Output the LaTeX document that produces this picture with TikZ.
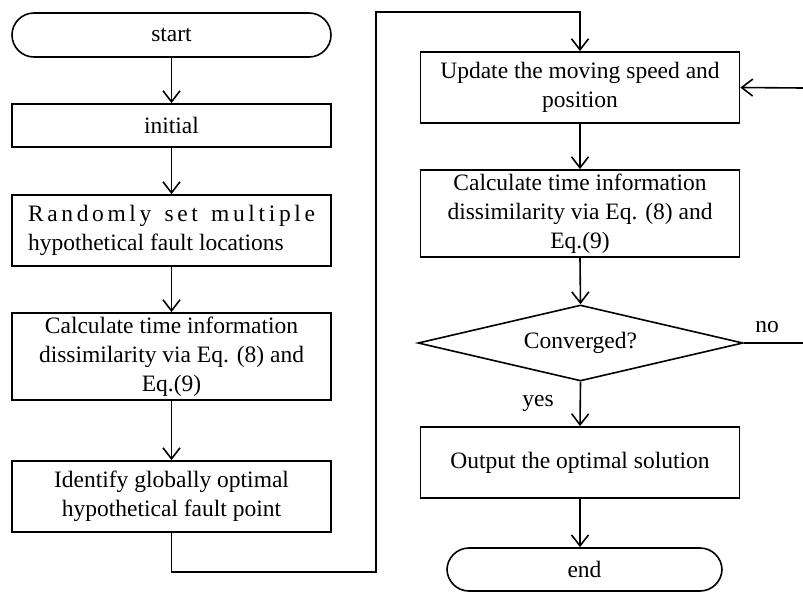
\documentclass[tikz,border=0pt]{standalone}
\usepackage{fontspec}
\setmainfont{Liberation Serif}
\usetikzlibrary{arrows.meta,shapes.geometric}
\begin{document}
\begin{tikzpicture}[x=1pt,y=-1pt,
  every node/.style={font=\fontsize{23.5}{29}\selectfont, inner sep=2pt, align=center},
  box/.style={draw, line width=1.8pt, rectangle, minimum width=319pt},
  pill/.style={draw, line width=1.6pt, rectangle, rounded corners=22pt, minimum height=44pt},
  decision/.style={draw, line width=1.6pt, diamond, shape aspect=4.3, inner sep=0pt, minimum width=325pt, minimum height=76pt},
  conn/.style={line width=1.6pt, -{Straight Barb[length=11pt,width=17pt,line width=1.6pt]}},
  plain/.style={line width=1.6pt}
]
\useasboundingbox (0,0) rectangle (803,592);

% left column
\node[pill, minimum width=319pt] (start) at (171.5,35) {start};
\node[box, minimum height=43pt] (init) at (171.5,125.5) {initial};
\node[box, minimum height=71pt] (rand) at (171.5,230.5) {\makebox[287pt][s]{R\hfil a\hfil n\hfil d\hfil o\hfil m\hfil l\hfil y\hfil\ \hfil s\hfil e\hfil t\hfil\ \hfil m\hfil u\hfil l\hfil t\hfil i\hfil p\hfil l\hfil e}\\\makebox[287pt][l]{hypothetical fault locations}};
\node[box, minimum height=87pt, inner sep=0pt] (calcA) at (171.5,356.5) {Calculate time information\\dissimilarity via Eq. (8) and\\Eq.(9)};
\node[box, minimum height=71pt] (ident) at (171.5,496.5) {Identify globally optimal\\hypothetical fault point};

% right column
\node[box, minimum height=71pt] (upd) at (580,87.5) {Update the moving speed and\\position};
\node[box, minimum height=87pt, inner sep=0pt] (calcB) at (580,213.5) {Calculate time information\\dissimilarity via Eq. (8) and\\Eq.(9)};
\node[decision] (conv) at (580.5,343) {Converged?};
\node[box, minimum height=71pt] (out) at (580,462.5) {Output the optimal solution};
\node[pill, minimum width=275pt, minimum height=43pt] (end) at (584.5,569.5) {end};

\node (no) at (767,327) {no};
\node (yes) at (538,403) {yes};

\coordinate (c1) at (376,572);
\coordinate (c2) at (376,12);
\coordinate (noEnd) at (803,343);
\coordinate (backIn) at (803,88);

% connectors
\draw[conn] (start) -- (init);
\draw[conn] (init) -- (rand);
\draw[conn] (rand) -- (calcA);
\draw[conn] (calcA) -- (ident);
\draw[conn] (ident.south) |- (c1) -- (c2) -| (upd.north);
\draw[conn] (upd) -- (calcB);
\draw[conn] (calcB.south) -- (conv.north);
\draw[conn] (conv.south) -- (out.north);
\draw[conn] (out.south) -- (out.south |- end.north);
\draw[plain] (conv.east) -- (noEnd);
\draw[conn] (backIn) -- (upd.east);
\end{tikzpicture}
\end{document}
